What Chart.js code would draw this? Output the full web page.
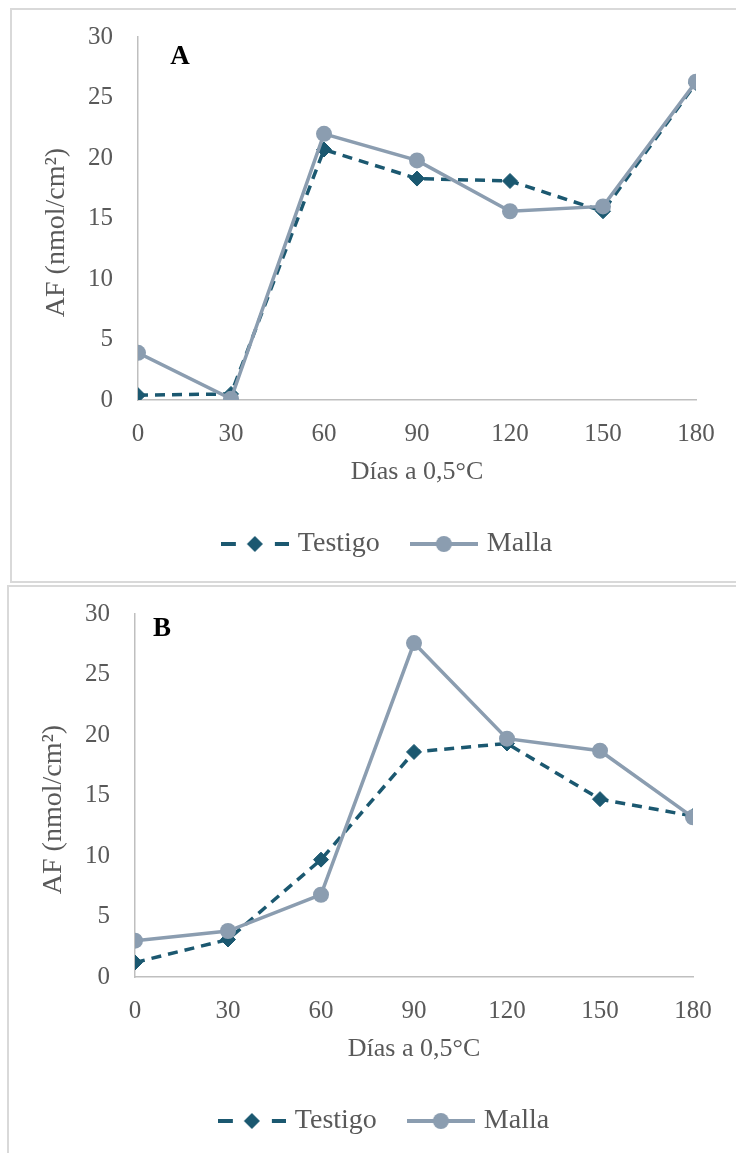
<!DOCTYPE html>
<html>
<head>
<meta charset="utf-8">
<script src="https://cdn.jsdelivr.net/npm/chart.js@4.4.1/dist/chart.umd.min.js"></script>
<style>
  body { margin: 0; background: #fff; overflow: hidden; width: 736px; height: 1153px; position: relative; }
  .panel { position: absolute; border: 2px solid #d9d9d9; background: #fff; box-sizing: border-box; overflow: hidden; }
  #panelA { left: 10px; top: 8px; width: 760px; height: 575px; }
  #panelB { left: 7px; top: 585px; width: 760px; height: 600px; }
  canvas { display: block; }
</style>
</head>
<body>
<div class="panel" id="panelA"><canvas id="chartA" width="724" height="566"></canvas></div>
<div class="panel" id="panelB"><canvas id="chartB" width="724" height="566"></canvas></div>
<script>
// days at 0.5 C, and AF values (nmol/cm2)
const days = [0, 30, 60, 90, 120, 150, 180];
const yTicks = [0, 5, 10, 15, 20, 25, 30];
const seriesNames = ['Testigo', 'Malla'];

const testigoA = [0.4, 0.5, 20.7, 18.3, 18.1, 15.6, 26.2];
const mallaA   = [3.9, 0.1, 22.0, 19.8, 15.6, 16.0, 26.3];

const testigoB = [1.2, 3.1, 9.7, 18.6, 19.3, 14.7, 13.3];
const mallaB   = [3.0, 3.8, 6.8, 27.6, 19.7, 18.7, 13.2];

const FONT = "'Liberation Serif', 'Times New Roman', serif";
const TEXT = '#595959';
const DARK = '#1b5870';
const GREY = '#8b9db0';
const AXIS = '#bfbfbf';

// legend icons: dash-diamond-dash and line-circle-line
function makeIcon(kind) {
  const c = document.createElement('canvas');
  c.width = 68; c.height = 20;
  const g = c.getContext('2d');
  g.lineWidth = 4;
  if (kind === 'dash') {
    g.strokeStyle = DARK; g.fillStyle = DARK;
    g.beginPath(); g.moveTo(0, 10); g.lineTo(15, 10); g.moveTo(54, 10); g.lineTo(68, 10); g.stroke();
    g.beginPath(); g.moveTo(34, 2); g.lineTo(42, 10); g.lineTo(34, 18); g.lineTo(26, 10); g.closePath(); g.fill();
  } else {
    g.strokeStyle = GREY; g.fillStyle = GREY;
    g.beginPath(); g.moveTo(0, 10); g.lineTo(68, 10); g.stroke();
    g.beginPath(); g.arc(34, 10, 8, 0, Math.PI * 2); g.fill();
  }
  return c;
}
const icons = [makeIcon('dash'), makeIcon('line')];

const letterPlugin = {
  id: 'panelLetter',
  afterDraw(chart, args, opts) {
    const {ctx, chartArea} = chart;
    ctx.save();
    ctx.font = 'bold 27px ' + FONT;
    ctx.fillStyle = '#000';
    ctx.textAlign = 'center';
    ctx.textBaseline = 'middle';
    ctx.fillText(opts.text, chartArea.left + opts.dx, chartArea.top + opts.dy);
    ctx.restore();
  }
};

function makeChart(id, testigo, malla, letter, dx, dy) {
  const tickFont = {family: FONT, size: 25};
  new Chart(document.getElementById(id), {
    type: 'line',
    data: {
      datasets: [
        {
          label: seriesNames[0],
          data: days.map((d, i) => ({x: d, y: testigo[i]})),
          borderColor: DARK, backgroundColor: DARK,
          borderWidth: 3.5, borderDash: [10, 7],
          pointStyle: 'rectRot', pointRadius: 7.5, pointBorderWidth: 1,
          order: 2
        },
        {
          label: seriesNames[1],
          data: days.map((d, i) => ({x: d, y: malla[i]})),
          borderColor: GREY, backgroundColor: GREY,
          borderWidth: 3.5,
          pointStyle: 'circle', pointRadius: 8, pointBorderWidth: 0,
          order: 1
        }
      ]
    },
    options: {
      responsive: false,
      animation: false,
      devicePixelRatio: 1,
      layout: {padding: {left: 70, right: 40, top: 27, bottom: 8}},
      scales: {
        x: {
          type: 'linear', min: 0, max: 180,
          afterBuildTicks: s => { s.ticks = days.map(v => ({value: v})); },
          afterFit: s => { s.height = 95; },
          grid: {display: false, drawTicks: false},
          border: {color: AXIS, width: 1.5},
          ticks: {color: TEXT, font: tickFont, padding: 19, maxRotation: 0},
          title: {display: true, text: 'Días a 0,5°C', color: TEXT, font: {family: FONT, size: 26}, padding: {top: 0, bottom: 7}}
        },
        y: {
          min: 0, max: 30,
          afterBuildTicks: s => { s.ticks = yTicks.map(v => ({value: v})); },
          afterFit: s => { s.width = 56; },
          grid: {display: false, drawTicks: true, tickLength: 20},
          border: {color: AXIS, width: 1.5},
          ticks: {color: TEXT, font: tickFont, padding: 5},
          // trailing no-break spaces nudge the centred title a little down, as in the original
          title: {display: true, text: 'AF (nmol/cm²)\u00a0\u00a0\u00a0\u00a0', color: TEXT, font: {family: FONT, size: 28}, padding: {top: -42, bottom: 0}}
        }
      },
      plugins: {
        legend: {
          position: 'bottom',
          labels: {
            usePointStyle: true,
            pointStyleWidth: 58,
            padding: 35,
            color: TEXT,
            font: {family: FONT, size: 28},
            generateLabels: chart => Chart.defaults.plugins.legend.labels.generateLabels(chart)
              .sort((a, b) => a.datasetIndex - b.datasetIndex)
              .map(it => Object.assign(it, {pointStyle: icons[it.datasetIndex]}))
          }
        },
        tooltip: {enabled: false},
        panelLetter: {text: letter, dx: dx, dy: dy}
      }
    },
    plugins: [letterPlugin]
  });
}

makeChart('chartA', testigoA, mallaA, 'A', 42, 20);
makeChart('chartB', testigoB, mallaB, 'B', 27, 15);
</script>
</body>
</html>
